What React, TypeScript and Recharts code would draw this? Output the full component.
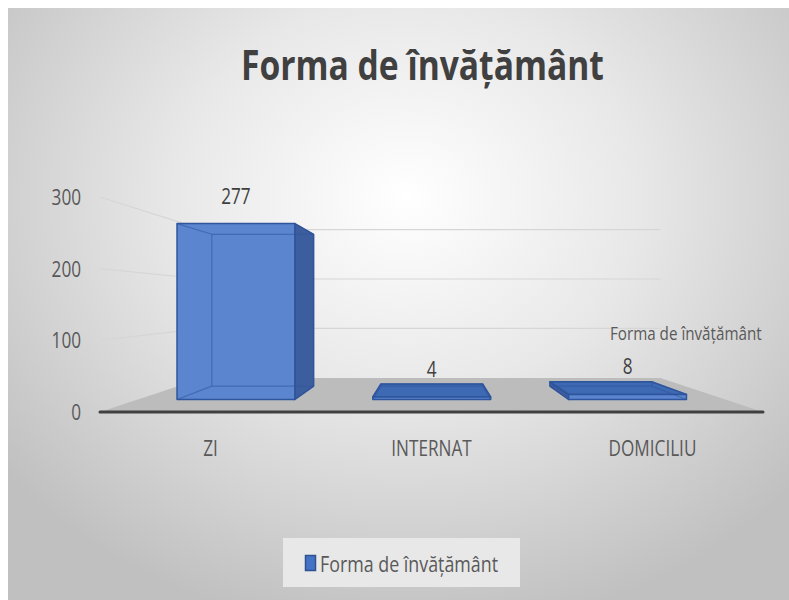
import React from 'react';
import { BarChart, Bar, XAxis, YAxis, CartesianGrid, Legend, LabelList } from 'recharts';

if (typeof document !== 'undefined') {
  document.documentElement.style.overflow = 'hidden';
  document.body.style.margin = '0';
}

// ---- data ----
const categories = ['ZI', 'INTERNAT', 'DOMICILIU'];
const seriesValues = [277, 4, 8];
const seriesName = 'Forma de învățământ';
const chartTitle = 'Forma de învățământ';
const yTicks = [0, 100, 200, 300];

const data = categories.map((name, i) => ({ name, value: seriesValues[i] }));

// ---- layout / perspective styling ----
const W = 781;
const H = 592;
const VX = 424; // vanishing point (chart coords)
const VY = 294;
const F_FRONT = 0.886; // depth factor of bar front face
const F_BACK = 0.765; // depth factor of bar back face
const F_WALL = 0.69; // depth factor of back wall
const FONT = '"Open Sans", "Noto Sans", sans-serif';
const SX = 0.78;

type P = [number, number];
const proj = (x: number, y: number, f: number): P => [VX + (x - VX) * f, VY + (y - VY) * f];
const pts = (a: P[]) => a.map((p) => `${p[0]},${p[1]}`).join(' ');

const BLUE_FRONT = '#5B85CF';
const BLUE_SIDE = '#3D5E9E';
const BLUE_TOP = '#3E69B3';
const BLUE_EDGE = '#2F559C';

function Box3D(props: any) {
  const { x, y, width, height } = props;
  if (width == null || height == null || isNaN(x) || isNaN(y)) return null;
  const xl = x;
  const xr = x + width;
  const yt = y;
  const yb = y + height;
  const FTL = proj(xl, yt, F_FRONT);
  const FTR = proj(xr, yt, F_FRONT);
  const FBR = proj(xr, yb, F_FRONT);
  const FBL = proj(xl, yb, F_FRONT);
  const BTL = proj(xl, yt, F_BACK);
  const BTR = proj(xr, yt, F_BACK);
  const BBR = proj(xr, yb, F_BACK);
  const BBL = proj(xl, yb, F_BACK);
  const topVis = yt > VY;
  const rightVis = xr < VX;
  const leftVis = xl > VX;
  const hidden: [P, P][] = [
    [BTL, BTR], [BTR, BBR], [BBR, BBL], [BBL, BTL],
    [FTL, BTL], [FTR, BTR], [FBR, BBR], [FBL, BBL],
  ];
  return (
    <g>
      {rightVis && (
        <polygon points={pts([FTR, BTR, BBR, FBR])} fill={BLUE_SIDE} stroke={BLUE_EDGE} strokeWidth={1.5} strokeLinejoin="round" />
      )}
      {leftVis && (
        <polygon points={pts([FTL, BTL, BBL, FBL])} fill={BLUE_SIDE} stroke={BLUE_EDGE} strokeWidth={1.5} strokeLinejoin="round" />
      )}
      {topVis && (
        <polygon points={pts([FTL, FTR, BTR, BTL])} fill={BLUE_TOP} stroke={BLUE_EDGE} strokeWidth={1.5} strokeLinejoin="round" />
      )}
      <polygon points={pts([FTL, FTR, FBR, FBL])} fill={BLUE_FRONT} stroke={BLUE_EDGE} strokeWidth={1.5} strokeLinejoin="round" />
      {hidden.map(([a, b], i) => (
        <line key={i} x1={a[0]} y1={a[1]} x2={b[0]} y2={b[1]} stroke={BLUE_EDGE} strokeOpacity={0.55} strokeWidth={1.2} />
      ))}
    </g>
  );
}

function ValueLabel(props: any) {
  const { x, y, width, value } = props;
  const [px, py] = proj(x + width / 2, y, F_FRONT);
  return (
    <text
      transform={`translate(${px},${py - 20}) scale(${SX},1)`}
      textAnchor="middle"
      fontFamily={FONT}
      fontSize={22}
      fill="#404040"
    >
      {value}
    </text>
  );
}

function gridLine(props: any) {
  const { x1, y1, x2, key, y, height } = props;
  const bl = proj(x1, y1, F_WALL);
  const br = proj(x2, y1, F_WALL);
  const isFloor = Math.abs(y1 - (y + height)) < 0.5;
  if (isFloor) {
    return (
      <g key={key}>
        <polygon points={pts([[x1, y1], [x2, y1], br, bl])} fill="#BCBCBC" />
        <line x1={x1} y1={y1} x2={x2} y2={y1} stroke="#404040" strokeWidth={3} strokeLinecap="round" />
      </g>
    );
  }
  return <polyline key={key} points={pts([[x1, y1], bl, br])} fill="none" stroke="#D6D6D6" strokeWidth={1.2} />;
}

function XTick(props: any) {
  const { x, y, payload } = props;
  return (
    <text transform={`translate(${x},${y + 42}) scale(${SX},1)`} textAnchor="middle" fontFamily={FONT} fontSize={22} fill="#595959">
      {payload.value}
    </text>
  );
}

function YTick(props: any) {
  const { x, y, payload } = props;
  return (
    <text transform={`translate(${x - 17},${y + 8}) scale(${SX},1)`} textAnchor="end" fontFamily={FONT} fontSize={22} fill="#595959">
      {payload.value}
    </text>
  );
}

function LegendBox(props: any) {
  const name = props?.payload?.[0]?.value ?? seriesName;
  return (
    <svg width={237} height={49} style={{ display: 'block', overflow: 'visible' }}>
      <rect width={237} height={49} fill="#E8E8E8" />
      <rect x={22.5} y={17.5} width={10} height={15} fill="#4472C4" stroke="#2F528F" strokeWidth={1.5} />
      <text transform={`translate(37,34) scale(0.85,1)`} fontFamily={FONT} fontSize={21} fill="#595959">
        {name}
      </text>
    </svg>
  );
}

export default function App() {
  return (
    <div
      style={{
        position: 'absolute',
        left: 8,
        top: 8,
        width: W,
        height: H,
        overflow: 'hidden',
        background: 'radial-gradient(ellipse 66% 74% at 51% 32%, #ffffff 0%, #e8e8e8 45%, #c0c0c0 100%)',
      }}
    >
      <BarChart width={W} height={H} data={data} margin={{ top: 189, right: 26, bottom: 13, left: 0 }} barCategoryGap="20%">
        <CartesianGrid vertical={false} horizontal={gridLine} />
        <XAxis dataKey="name" height={126} axisLine={false} tickLine={false} tickSize={0} tick={XTick} interval={0} />
        <YAxis domain={[0, 300]} ticks={yTicks} width={92} axisLine={false} tickLine={false} tickSize={0} tick={YTick} interval={0} />
        <Legend verticalAlign="bottom" content={LegendBox} wrapperStyle={{ left: 275, width: 237, height: 49 }} />
        <Bar dataKey="value" name={seriesName} shape={Box3D} isAnimationActive={false}>
          <LabelList dataKey="value" content={ValueLabel} />
        </Bar>
      </BarChart>
      <svg width={W} height={H} style={{ position: 'absolute', left: 0, top: 0, pointerEvents: 'none' }}>
        <text transform="translate(414.5,72) scale(0.8,1)" textAnchor="middle" fontFamily={FONT} fontWeight={700} fontSize={42} fill="#404040">
          {chartTitle}
        </text>
        <text transform="translate(602,332) scale(0.8,1)" fontFamily={FONT} fontSize={19} fill="#595959">
          {seriesName}
        </text>
      </svg>
    </div>
  );
}
